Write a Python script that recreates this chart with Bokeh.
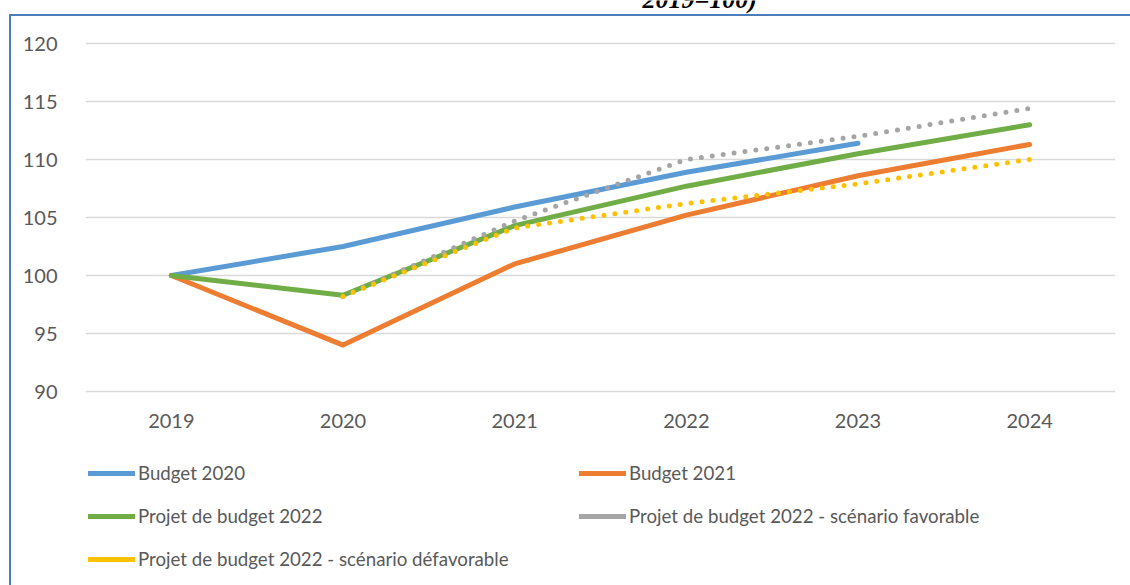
from bokeh.plotting import figure
from bokeh.models import (FactorRange, Range1d, FixedTicker, Legend, LegendItem,
                          Label)
from bokeh.core.properties import value
from bokeh.embed import file_html
from bokeh.resources import INLINE

# ---- data -------------------------------------------------------------
years = ["2019", "2020", "2021", "2022", "2023", "2024"]
budget_2020 = [100, 102.5, 105.9, 108.9, 111.4]            # 2019-2023
budget_2021 = [100, 94.0, 101.0, 105.2, 108.6, 111.3]      # 2019-2024
projet_2022 = [100, 98.3, 104.3, 107.7, 110.5, 113.0]      # 2019-2024
favorable = [98.2, 104.7, 110.0, 112.0, 114.4]             # 2020-2024
defavorable = [98.2, 104.1, 106.2, 107.9, 110.0]           # 2020-2024
y_ticks = [90, 95, 100, 105, 110, 115, 120]
title_text = "2019=100)"

labels = ["Budget 2020", "Budget 2021", "Projet de budget 2022",
          "Projet de budget 2022 - scénario favorable",
          "Projet de budget 2022 - scénario défavorable"]
colors = ["#5b9bd5", "#ed7d31", "#70ad47", "#a5a5a5", "#ffc000"]

FONT = "Lato"
TXT = "#595959"
BORDER = "#4a7ebb"

# ---- layout (pixels) -----------------------------------------------------
W, H = 1130, 585
GRID_TOP, GRID_BOTTOM = 43, 391          # pixel rows of 120 and 90
PPU = (GRID_BOTTOM - GRID_TOP) / (y_ticks[-1] - y_ticks[0])
y_lo = y_ticks[0] - (H - GRID_BOTTOM) / PPU
y_hi = y_ticks[-1] + GRID_TOP / PPU

p = figure(x_range=FactorRange(*years), y_range=Range1d(y_lo, y_hi),
           width=W, height=H, output_backend="svg", toolbar_location=None,
           x_axis_location=None,
           min_border_left=85, min_border_right=15, min_border_top=0,
           min_border_bottom=0)
p.outline_line_color = None
p.border_fill_color = None
p.background_fill_color = None
p.styles = {
    "background": (f"linear-gradient({BORDER},{BORDER}) 9px 14px / 2px 100% no-repeat, "
                   f"linear-gradient({BORDER},{BORDER}) 9px 14px / 100% 2px no-repeat, "
                   "#ffffff"),
}
p.xgrid.grid_line_color = None
p.ygrid.grid_line_color = "#d9d9d9"
p.ygrid.grid_line_width = 1.3
p.yaxis.ticker = FixedTicker(ticks=y_ticks)

ax = p.yaxis[0]
ax.axis_line_color = None
ax.major_tick_line_color = None
ax.minor_tick_line_color = None
ax.major_label_text_font = FONT
ax.major_label_text_font_size = "20px"
ax.major_label_text_color = TXT
ax.major_label_standoff = 22

# category labels under the 90 line
p.text(x=years, y=[y_ticks[0] - 29.5 / PPU] * len(years), text=years,
       text_font=value(FONT), text_font_size="20px", text_color=TXT,
       text_align="center", text_baseline="middle")

# ---- series -------------------------------------------------------------
LW = 5
r1 = p.line(years[:5], budget_2020, line_width=LW, line_color=colors[0],
            line_cap="round", line_join="round")
r2 = p.line(years, budget_2021, line_width=LW, line_color=colors[1],
            line_cap="round", line_join="round")
r3 = p.line(years, projet_2022, line_width=LW, line_color=colors[2],
            line_cap="round", line_join="round")
r4 = p.line(years[1:], favorable, line_width=5, line_color=colors[3],
            line_dash="0 11", line_cap="round")
r5 = p.line(years[1:], defavorable, line_width=5, line_color=colors[4],
            line_dash="0 11", line_cap="round")

# solid (hidden) legend swatches for the dotted series
s4 = p.line(years[1:], favorable, line_width=LW, line_color=colors[3],
            line_cap="round", visible=False)
s5 = p.line(years[1:], defavorable, line_width=LW, line_color=colors[4],
            line_cap="round", visible=False)


def make_legend(items, loc):
    lg = Legend(items=items, location=loc, orientation="vertical")
    lg.border_line_color = None
    lg.background_fill_alpha = 0
    lg.padding = 0
    lg.margin = 0
    lg.spacing = 19
    lg.glyph_width = 47
    lg.glyph_height = 24
    lg.label_height = 24
    lg.label_standoff = 3
    lg.label_text_font = FONT
    lg.label_text_font_size = "18.7px"
    lg.label_text_color = TXT
    lg.label_text_baseline = "middle"
    return lg


leg1 = make_legend([LegendItem(label=labels[0], renderers=[r1]),
                    LegendItem(label=labels[2], renderers=[r3]),
                    LegendItem(label=labels[4], renderers=[s5])], (3, 14))
leg2 = make_legend([LegendItem(label=labels[1], renderers=[r2]),
                    LegendItem(label=labels[3], renderers=[s4])], (494, 57))
p.add_layout(leg1)
p.add_layout(leg2)

# truncated heading at top
p.add_layout(Label(x=3.578, y=y_ticks[-1] + 44.5 / PPU, text=title_text,
                   text_align="center", text_baseline="alphabetic",
                   text_font="Liberation Serif", text_font_style="bold italic",
                   text_font_size="26px", text_color="#000000"))

open("out.html", "w").write(file_html(p, INLINE))
